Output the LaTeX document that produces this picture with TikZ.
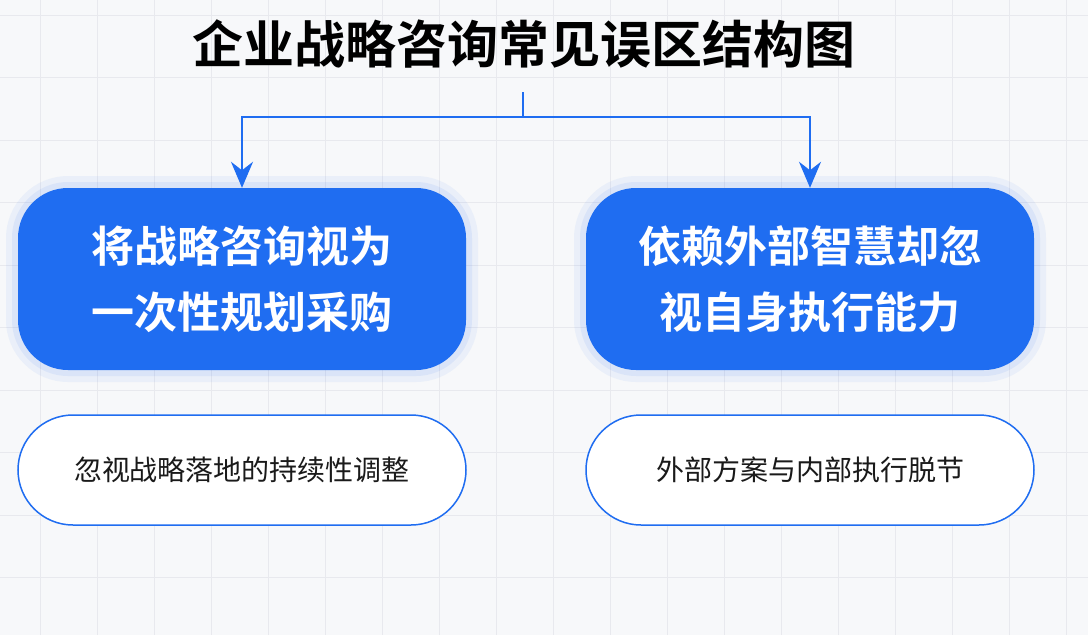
\documentclass[tikz,border=0pt]{standalone}
\usepackage{fontspec}
\setmainfont{Noto Sans CJK SC}[BoldFont={Noto Sans CJK SC Bold}]
\usetikzlibrary{arrows.meta}
\definecolor{accent}{HTML}{1F6DF1}
\definecolor{paper}{HTML}{F7F8FA}
\definecolor{gridline}{HTML}{E8E9EE}
\definecolor{inktext}{HTML}{1A1A1A}

\tikzset{
  mistake/.style={rectangle,rounded corners=50pt,fill=accent,text=white,
    minimum width=448pt,minimum height=182pt,align=center,
    font=\bfseries\fontsize{43}{66}\selectfont,
    preaction={draw=accent,draw opacity=0.06,line width=24pt},
    preaction={draw=accent,draw opacity=0.08,line width=12pt}},
  effect/.style={rectangle,rounded corners=55pt,draw=accent,line width=1.5pt,fill=white,
    minimum width=448pt,minimum height=110pt,text=inktext,
    font=\fontsize{28}{34}\selectfont},
  link/.style={draw=accent,line width=2pt,-{Stealth[length=26pt,width=22pt]}}
}

\begin{document}
\begin{tikzpicture}[x=1pt,y=-1pt]
\useasboundingbox (0,0) rectangle (1088,635);
\fill[paper] (0,0) rectangle (1088,635);
% faint grid
\foreach \gx in {40,97,...,1088} \draw[gridline,line width=1pt] (\gx,0) -- (\gx,635);
\foreach \gy in {15,77.5,...,635} \draw[gridline,line width=1pt] (0,\gy) -- (1088,\gy);

\node (title) at (524,44) {\bfseries\fontsize{51}{56}\selectfont 企业战略咨询常见误区结构图};

\node[mistake] (left) at (242,279) {将战略咨询视为\\一次性规划采购};
\node[mistake] (right) at (810,279) {依赖外部智慧却忽\\视自身执行能力};

\node[effect] (leftfx) at (242,470) {忽视战略落地的持续性调整};
\node[effect] (rightfx) at (810,470) {外部方案与内部执行脱节};

% connectors
\coordinate (root) at (523,92);
\coordinate (split) at (523,117);
\draw[accent,line width=2pt] (root) -- (split);
\draw[link] (split) -| (left.north);
\draw[link] (split) -| (right.north);
\end{tikzpicture}
\end{document}
